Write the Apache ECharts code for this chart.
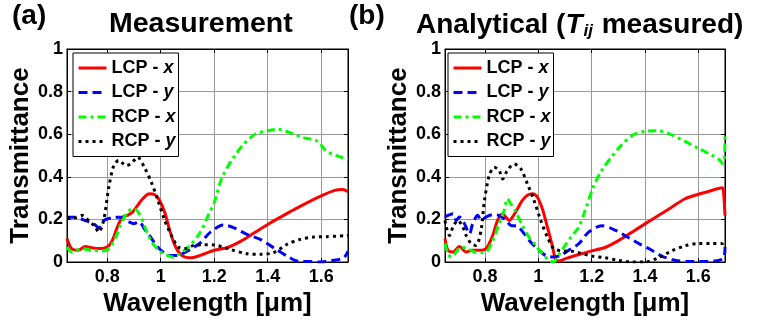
<!DOCTYPE html>
<html>
<head>
<meta charset="utf-8">
<script src="https://cdn.jsdelivr.net/npm/echarts@6/dist/echarts.min.js"></script>
<style>
html,body{margin:0;padding:0;background:#fff;}
#chart{width:758px;height:322px;}
</style>
</head>
<body>
<div id="chart"></div>
<script>
// ---------- data ----------
const seriesNames = ['LCP - x', 'LCP - y', 'RCP - x', 'RCP - y'];
const xTickValues = [0.8, 1.0, 1.2, 1.4, 1.6];
const yTickValues = [0, 0.2, 0.4, 0.6, 0.8, 1];

// (a) Measurement
const measLcpX_wl = [0.65,0.667,0.692,0.718,0.743,0.768,0.8,0.819,0.838,0.857,0.876,0.895,0.914,0.933,0.958,0.977,0.996,1.015,1.034,1.053,1.072,1.091,1.116,1.148,1.2,1.25,1.3,1.35,1.4,1.45,1.5,1.55,1.6,1.65,1.68,1.7];
const measLcpX_T  = [0.11,0.063,0.055,0.073,0.067,0.063,0.07,0.10,0.164,0.21,0.219,0.234,0.266,0.297,0.32,0.317,0.289,0.234,0.148,0.078,0.039,0.023,0.02,0.031,0.055,0.068,0.098,0.137,0.176,0.212,0.247,0.28,0.31,0.336,0.34,0.33];
const measLcpY_wl = [0.65,0.68,0.718,0.75,0.768,0.787,0.819,0.851,0.87,0.882,0.9,0.92,0.939,0.958,0.984,1.009,1.034,1.06,1.085,1.116,1.148,1.186,1.235,1.272,1.322,1.372,1.422,1.472,1.515,1.559,1.596,1.646,1.684,1.7];
const measLcpY_T  = [0.21,0.21,0.195,0.18,0.16,0.195,0.208,0.21,0.198,0.188,0.18,0.188,0.156,0.125,0.078,0.047,0.031,0.031,0.042,0.063,0.09,0.14,0.174,0.161,0.13,0.106,0.067,0.028,0.003,0.002,0.0,0.008,0.02,0.05];
const measRcpX_wl = [0.65,0.667,0.705,0.743,0.781,0.806,0.832,0.857,0.882,0.9,0.92,0.946,0.971,0.996,1.02,1.047,1.072,1.11,1.148,1.186,1.198,1.229,1.272,1.31,1.353,1.397,1.44,1.484,1.534,1.584,1.62,1.659,1.7];
const measRcpX_T  = [0.07,0.047,0.063,0.055,0.052,0.063,0.117,0.195,0.242,0.25,0.227,0.148,0.086,0.052,0.034,0.023,0.039,0.078,0.14,0.242,0.27,0.396,0.49,0.553,0.6,0.615,0.623,0.607,0.584,0.568,0.52,0.498,0.482];
const measRcpY_wl = [0.65,0.68,0.705,0.73,0.756,0.768,0.787,0.806,0.825,0.844,0.87,0.889,0.914,0.939,0.965,0.99,1.015,1.04,1.066,1.091,1.123,1.16,1.2,1.26,1.322,1.372,1.422,1.472,1.522,1.572,1.621,1.7];
const measRcpY_T  = [0.21,0.208,0.219,0.195,0.164,0.14,0.195,0.35,0.453,0.477,0.453,0.461,0.492,0.445,0.375,0.289,0.195,0.125,0.07,0.063,0.078,0.081,0.08,0.059,0.039,0.036,0.044,0.083,0.106,0.117,0.119,0.125];

// (b) Analytical (T_ij measured)
const anaLcpX_wl = [0.65,0.661,0.68,0.704,0.729,0.754,0.779,0.804,0.829,0.847,0.866,0.878,0.891,0.903,0.922,0.94,0.959,0.978,0.996,1.015,1.034,1.052,1.065,1.077,1.102,1.152,1.2,1.25,1.3,1.35,1.4,1.45,1.5,1.55,1.6,1.65,1.69,1.695,1.7];
const anaLcpX_T  = [0.11,0.055,0.047,0.073,0.047,0.055,0.055,0.063,0.125,0.195,0.227,0.211,0.195,0.211,0.25,0.289,0.313,0.32,0.305,0.25,0.164,0.078,0.011,0.005,0.016,0.035,0.052,0.068,0.1,0.139,0.179,0.218,0.257,0.297,0.318,0.336,0.349,0.32,0.218];
const anaLcpY_wl = [0.65,0.661,0.68,0.692,0.704,0.723,0.742,0.754,0.773,0.785,0.804,0.829,0.853,0.878,0.897,0.922,0.947,0.971,0.996,1.027,1.058,1.083,1.114,1.152,1.1875,1.2375,1.2875,1.3375,1.381,1.419,1.4625,1.5125,1.5625,1.6125,1.6625,1.6875,1.6975,1.7];
const anaLcpY_T  = [0.21,0.219,0.227,0.195,0.211,0.18,0.133,0.18,0.219,0.198,0.211,0.222,0.219,0.195,0.172,0.167,0.133,0.094,0.063,0.031,0.023,0.031,0.055,0.086,0.139,0.17,0.15,0.115,0.084,0.06,0.028,0.008,0.002,0.002,0.005,0.013,0.03,0.07];
const anaRcpX_wl = [0.65,0.661,0.673,0.692,0.71,0.735,0.76,0.785,0.804,0.829,0.853,0.872,0.884,0.897,0.916,0.94,0.965,0.99,1.015,1.04,1.058,1.071,1.096,1.127,1.15,1.175,1.206,1.2375,1.275,1.3125,1.356,1.4,1.45,1.5,1.55,1.6,1.65,1.68,1.69,1.697,1.7];
const anaRcpX_T  = [0.086,0.039,0.023,0.047,0.07,0.063,0.047,0.044,0.047,0.10,0.18,0.242,0.297,0.273,0.234,0.172,0.117,0.078,0.039,0.008,0.0,0.023,0.07,0.125,0.16,0.24,0.352,0.43,0.494,0.55,0.597,0.613,0.616,0.597,0.566,0.534,0.502,0.479,0.463,0.48,0.597];
const anaRcpY_wl = [0.65,0.655,0.667,0.68,0.698,0.717,0.729,0.748,0.766,0.785,0.798,0.816,0.835,0.853,0.866,0.884,0.909,0.934,0.959,0.984,1.009,1.034,1.058,1.09,1.127,1.15,1.2,1.25,1.3,1.35,1.4,1.45,1.5,1.55,1.6,1.65,1.69,1.7];
const anaRcpY_T  = [0.195,0.164,0.125,0.164,0.195,0.164,0.125,0.086,0.078,0.148,0.289,0.406,0.445,0.43,0.39,0.43,0.46,0.438,0.367,0.289,0.195,0.117,0.063,0.052,0.05,0.044,0.028,0.02,0.008,0.0,0.0,0.02,0.052,0.076,0.087,0.087,0.087,0.107];

// ---------- build ----------
const FONT = 'Liberation Sans, Arial, Helvetica, sans-serif';
const zip = (a, b) => a.map((v, i) => [v, b[i]]);
const styles = [
  { color: '#ff0000', type: 'solid' },
  { color: '#0000ff', type: [9, 5] },
  { color: '#00ff00', type: [8, 4, 3, 4] },
  { color: '#000000', type: [3, 4] }
];
const panels = [
  [[measLcpX_wl, measLcpX_T], [measLcpY_wl, measLcpY_T], [measRcpX_wl, measRcpX_T], [measRcpY_wl, measRcpY_T]],
  [[anaLcpX_wl, anaLcpX_T], [anaLcpY_wl, anaLcpY_T], [anaRcpX_wl, anaRcpX_T], [anaRcpY_wl, anaRcpY_T]]
];

const grids = [
  { left: 67, right: 410, top: 49, bottom: 60, show: true, borderColor: '#000', borderWidth: 1 },
  { left: 445, right: 33, top: 49, bottom: 60, show: true, borderColor: '#000', borderWidth: 1 }
];

function xAx(gi, pos) {
  const main = pos === 'bottom';
  return {
    type: 'value', gridIndex: gi, position: pos, min: 0.65, max: 1.7,
    axisLine: { show: true, onZero: false, lineStyle: { color: '#000', width: 1 } },
    axisTick: { show: true, inside: true, length: 4, customValues: xTickValues, lineStyle: { color: '#000' } },
    axisLabel: { show: main, customValues: xTickValues, margin: 6, color: '#000', fontFamily: FONT, fontWeight: 'bold', fontSize: 18 },
    splitLine: { show: main, lineStyle: { color: '#9a9a9a', width: 1 } },
    name: main ? 'Wavelength [μm]' : '', nameLocation: 'middle', nameGap: 27,
    nameTextStyle: { color: '#000', fontFamily: FONT, fontWeight: 'bold', fontSize: 26 }
  };
}
function yAx(gi, pos) {
  const main = pos === 'left';
  return {
    type: 'value', gridIndex: gi, position: pos, min: 0, max: 1, interval: 0.2,
    axisLine: { show: true, onZero: false, lineStyle: { color: '#000', width: 1 } },
    axisTick: { show: true, inside: true, length: 4, lineStyle: { color: '#000' } },
    axisLabel: { show: main, margin: 4, color: '#000', fontFamily: FONT, fontWeight: 'bold', fontSize: 18 },
    splitLine: { show: main, lineStyle: { color: '#9a9a9a', width: 1 } },
    name: main ? 'Transmittance' : '', nameLocation: 'middle', nameGap: 28,
    nameTextStyle: { color: '#000', fontFamily: FONT, fontWeight: 'bold', fontSize: 26 }
  };
}

const series = [];
panels.forEach((p, gi) => {
  p.forEach((d, si) => {
    series.push({
      type: 'line', name: seriesNames[si],
      xAxisIndex: gi * 2, yAxisIndex: gi * 2,
      data: zip(d[0], d[1]), symbol: 'none', smooth: 0.3,
      lineStyle: { color: styles[si].color, type: styles[si].type, width: 3, cap: 'butt' },
      itemStyle: { color: styles[si].color },
      z: 3 + si, silent: true, animation: false
    });
  });
});

function legend(left) {
  return {
    orient: 'vertical', left: left, top: 53,
    data: seriesNames,
    backgroundColor: '#fff', borderColor: '#000', borderWidth: 1, borderRadius: 0,
    padding: [6, 3, 6, 4], itemGap: 6.5, itemWidth: 28, itemHeight: 14, itemTextGap: 3,
    selectedMode: false,
    itemStyle: { opacity: 0, borderWidth: 0 },
    lineStyle: { width: 3 },
    formatter: name => { const [a, b] = name.split(' - '); return '{n|' + a + ' - }{i|' + b + '}'; },
    textStyle: {
      color: '#000', fontFamily: FONT, fontWeight: 'bold', fontSize: 18, lineHeight: 18,
      rich: {
        n: { fontFamily: FONT, fontWeight: 'bold', fontSize: 18, color: '#000' },
        i: { fontFamily: FONT, fontWeight: 'bold', fontStyle: 'italic', fontSize: 18, color: '#000' }
      }
    }
  };
}

const titleStyle = { color: '#000', fontFamily: FONT, fontWeight: 'bold', fontSize: 28 };
const option = {
  backgroundColor: '#fff',
  animation: false,
  title: [
    { text: '(a)', left: 12, top: 2, padding: 0, textStyle: titleStyle },
    { text: 'Measurement', left: 109, top: 10, padding: 0, textStyle: { ...titleStyle, fontSize: 28.5 } },
    { text: '(b)', left: 349, top: 2, padding: 0, textStyle: titleStyle },
    {
      text: '{n|Analytical (}{t|T}{s|ij}{n| measured)}', left: 416, top: 10, padding: 0,
      textStyle: {
        ...titleStyle,
        rich: {
          n: { fontFamily: FONT, fontWeight: 'bold', fontSize: 28, color: '#000', lineHeight: 30 },
          t: { fontFamily: FONT, fontWeight: 'bold', fontStyle: 'italic', fontSize: 28, color: '#000', lineHeight: 30 },
          s: { fontFamily: FONT, fontWeight: 'bold', fontStyle: 'italic', fontSize: 17, color: '#000', verticalAlign: 'bottom', lineHeight: 30, padding: [14, 1, 0, 1] }
        }
      }
    }
  ],
  grid: grids,
  xAxis: [xAx(0, 'bottom'), xAx(0, 'top'), xAx(1, 'bottom'), xAx(1, 'top')],
  yAxis: [yAx(0, 'left'), yAx(0, 'right'), yAx(1, 'left'), yAx(1, 'right')],
  legend: [legend(73), legend(448)],
  series: series
};

const chart = echarts.init(document.getElementById('chart'), null, { renderer: 'canvas' });
chart.setOption(option);
</script>
</body>
</html>
